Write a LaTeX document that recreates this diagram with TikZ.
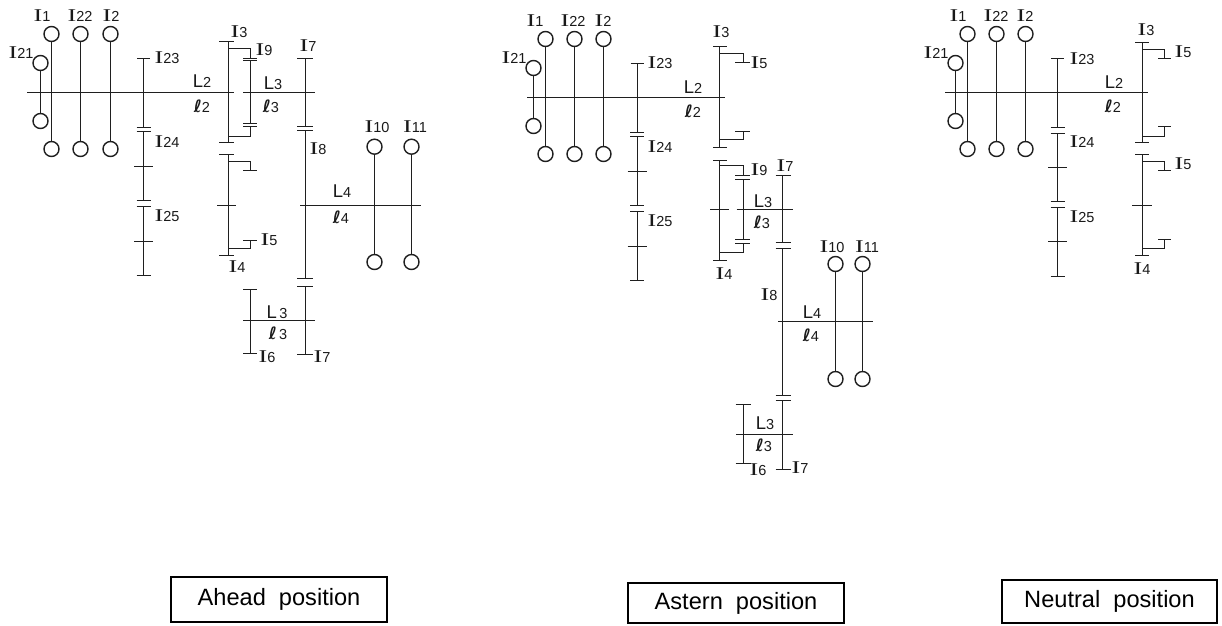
\documentclass[tikz,border=0pt]{standalone}
\usepackage{fontspec}
\setmainfont{Liberation Sans}
\newfontfamily\serf{Liberation Serif}[FakeStretch=1.45]
\newfontfamily\ellf{DejaVu Sans}
\newcommand{\Tk}[3]{\draw[gear] ({#1-#3},{floor(#2)+0.5}) -- ({#1+#3},{floor(#2)+0.5});}
\newcommand{\Vl}[3]{\draw[gear] ({floor(#1)+0.5},#2) -- ({floor(#1)+0.5},#3);}
\newcommand{\Il}[4]{\node[lab] (#1) at (#2,#3) {{\fontsize{18}{18}\serf I}{\fontsize{14.5}{14.5}\selectfont #4}};}
\newcommand{\Ll}[4]{\node[lab] (#1) at (#2,#3) {{\fontsize{18.5}{18.5}\selectfont L}{\fontsize{14.5}{14.5}\selectfont #4}};}
\newcommand{\El}[4]{\node[lab] (#1) at (#2,#3) {{\fontsize{17}{17}\ellf\bfseries\itshape ℓ}{\fontsize{14.5}{14.5}\selectfont #4}};}
\newcommand{\Pin}[5]{% name x ytop ybottom
  \node[wheel] (#1t) at ({floor(#2)+0.5},#3) {};
  \node[wheel] (#1b) at ({floor(#2)+0.5},#4) {};
  \draw[gear] (#1t) -- (#1b);}
\begin{document}
\begin{tikzpicture}[x=1pt,y=-1pt,
  gear/.style={line width=1.5pt,draw=black!88},
  wheel/.style={circle,draw=black!88,line width=1.4pt,minimum size=15pt,inner sep=0pt,fill=white},
  lab/.style={inner sep=0pt,text=black!90},
  tagbox/.style={draw=black,line width=1.8pt,inner sep=0pt,outer sep=0pt,anchor=north west,font=\fontsize{23.6}{23.6}\selectfont}]
\useasboundingbox (0,0) rectangle (1222,625);

% ---------- Ahead ----------
\Pin{aa}{40.5}{63}{121}{}
\Pin{ab}{51.5}{34}{149}{}
\Pin{ac}{80.5}{34}{149}{}
\Pin{ad}{110.5}{34}{149}{}
\draw[gear] (27,92.5) -- (234,92.5);
\Vl{143.5}{58.5}{127}\Vl{143.5}{131}{200.5}\Vl{143.5}{206.5}{275}
\Tk{143.5}{58.5}{6.5}\Tk{143.5}{127}{7}\Tk{143.5}{131}{7}\Tk{143.5}{166}{9.5}\Tk{143.5}{200.5}{7}\Tk{143.5}{206.5}{7}\Tk{143.5}{241}{9.5}\Tk{143.5}{275}{7}
% upper compound gear
\Vl{228}{41.5}{142}\Tk{226.5}{41.5}{7.5}\Tk{226.5}{142}{7.5}
\draw[gear] (228.5,48.5) -- (250.5,48.5) -- (250.5,58);
\Tk{250}{58}{7}\Tk{250}{60.5}{7}
\Vl{250}{60.5}{123}\Tk{250}{123}{7}\Tk{250}{126.7}{7}
\draw[gear] (250.5,126.7) -- (250.5,136.5) -- (228.5,136.5);
\draw[gear] (243,92.5) -- (315,92.5);
% lower compound gear
\Vl{228}{154.3}{255}\Tk{226.5}{154.3}{7.5}\Tk{226.5}{255}{7.5}
\draw[gear] (228.5,161.5) -- (250.5,161.5) -- (250.5,170);\Tk{250}{170}{7}
\draw[gear] (228.5,248.5) -- (250.5,248.5) -- (250.5,240);\Tk{250}{240}{7}
\Tk{226.5}{205}{9.5}
% layshaft
\Vl{305}{58}{126.7}\Vl{305}{130.3}{278.7}\Vl{305}{286.7}{354}
\Tk{305}{58}{8}\Tk{305}{126.7}{8}\Tk{305}{130.3}{8}\Tk{305}{278.7}{8}\Tk{305}{286.7}{8}\Tk{305}{354}{8}
\draw[gear] (300,205.5) -- (421,205.5);
\Pin{ae}{374.7}{146.7}{262}{}
\Pin{af}{411}{146.7}{262}{}
\Vl{250}{289}{353}\Tk{250}{289}{7}\Tk{250}{353}{7}
\draw[gear] (243,320.5) -- (315,320.5);
% labels
\Il{a1}{42}{16}{1}\Il{a2}{80}{16}{22}\Il{a3}{111}{16}{2}\Il{a4}{21}{53}{21}
\Il{a5}{167}{58}{23}\Il{a6}{167}{142}{24}\Il{a7}{167}{216}{25}
\Ll{a8}{202}{81}{2}\El{a9}{202}{106}{2}
\Il{a10}{239}{32}{3}\Il{a11}{264}{50}{9}
\Ll{a12}{273}{83}{3}\El{a13}{271}{106}{3}
\Il{a14}{308}{46}{7}\Il{a15}{318}{149}{8}
\Ll{a16}{342}{191}{4}\El{a17}{341}{217}{4}
\Il{a18}{377}{127}{10}\Il{a19}{415}{127}{11}
\Il{a20}{269}{240}{5}\Il{a21}{237}{267}{4}
\Ll{a22}{277}{312}{\,3}\El{a23}{278}{333}{\,3}
\Il{a24}{267}{357}{6}\Il{a25}{322}{357}{7}

% ---------- Astern ----------
\Pin{ba}{533.5}{68}{126}{}
\Pin{bb}{545}{39}{154}{}
\Pin{bc}{574}{39}{154}{}
\Pin{bd}{603}{39}{154}{}
\draw[gear] (527,97.5) -- (725,97.5);
\Vl{637}{63}{132}\Vl{637}{136}{205.5}\Vl{637}{211.5}{280}
\Tk{637}{63}{6.5}\Tk{637}{132}{7}\Tk{637}{136}{7}\Tk{637}{171}{9.5}\Tk{637}{205.5}{7}\Tk{637}{211.5}{7}\Tk{637}{246}{9.5}\Tk{637}{280}{7}
\Vl{719.7}{46.7}{147.3}\Tk{720}{46.7}{7}\Tk{720}{147.3}{7}
\draw[gear] (719.5,53.5) -- (743.5,53.5) -- (743.5,62);\Tk{742.5}{62}{7.5}
\draw[gear] (719.5,139.5) -- (743.5,139.5) -- (743.5,131.7);\Tk{742.5}{131.7}{7.5}
\Vl{719.7}{160}{260}\Tk{720}{160}{7}\Tk{720}{260}{7}
\draw[gear] (719.5,165.5) -- (743.5,165.5) -- (743.5,175);\Tk{742.5}{175}{7.5}\Tk{742.5}{179.3}{7.5}
\Vl{743}{179.3}{239.3}\Tk{742.5}{239.3}{7.5}\Tk{742.5}{243.3}{7.5}
\draw[gear] (743.5,243.3) -- (743.5,252.5) -- (719.5,252.5);
\Tk{719.5}{209}{9.5}
\draw[gear] (736.7,209.5) -- (793,209.5);
\Vl{782.7}{175}{242.7}\Vl{782.7}{248.7}{395.7}\Vl{782.7}{400.7}{469}
\Tk{783}{175}{7.5}\Tk{783}{242.7}{7.5}\Tk{783}{248.7}{7.5}\Tk{783}{395.7}{7.5}\Tk{783}{400.7}{7.5}\Tk{783}{469}{7.5}
\draw[gear] (778,321.5) -- (873,321.5);
\Pin{be}{835}{264}{379}{}
\Pin{bf}{862.7}{264}{379}{}
\Vl{743.3}{404.7}{463}\Tk{743}{404.7}{7.5}\Tk{743}{463}{7.5}
\draw[gear] (736,434.5) -- (793,434.5);
\Il{b1}{535}{21}{1}\Il{b2}{573}{21}{22}\Il{b3}{603}{21}{2}\Il{b4}{514}{58}{21}
\Il{b5}{660}{63}{23}\Il{b6}{660}{147}{24}\Il{b7}{660}{221}{25}
\Ll{b8}{693}{87}{2}\El{b9}{693}{111}{2}
\Il{b10}{721}{32}{3}\Il{b11}{759}{63}{5}\Il{b12}{759}{170}{9}\Il{b13}{785}{166}{7}
\Ll{b14}{763}{201}{3}\El{b15}{762}{222}{3}\Il{b16}{724}{274}{4}
\Il{b17}{832}{247}{10}\Il{b18}{867}{247}{11}\Il{b19}{769}{295}{8}
\Ll{b20}{812}{312}{4}\El{b21}{811}{335}{4}
\Ll{b22}{765}{423}{3}\El{b23}{764}{445}{3}
\Il{b24}{758}{470}{6}\Il{b25}{800}{468}{7}

% ---------- Neutral ----------
\Pin{ca}{955.5}{63}{121}{}
\Pin{cb}{967}{34}{149}{}
\Pin{cc}{996}{34}{149}{}
\Pin{cd}{1025}{34}{149}{}
\draw[gear] (945,92.5) -- (1148,92.5);
\Vl{1057.7}{58}{127}\Vl{1057.7}{133}{201.7}\Vl{1057.7}{207.7}{276}
\Tk{1057.7}{58}{6.5}\Tk{1057.7}{127}{7}\Tk{1057.7}{133}{7}\Tk{1057.7}{167}{9.5}\Tk{1057.7}{201.7}{7}\Tk{1057.7}{207.7}{7}\Tk{1057.7}{241.7}{9.5}\Tk{1057.7}{276}{7}
\Vl{1142.3}{42.7}{142.3}\Tk{1142}{42.7}{7}\Tk{1142}{142.3}{7}
\draw[gear] (1142.5,49.5) -- (1164.5,49.5) -- (1164.5,58);\Tk{1164.5}{58}{6.5}
\draw[gear] (1142.5,136.5) -- (1164.5,136.5) -- (1164.5,126.7);\Tk{1164.5}{126.7}{6.5}
\Vl{1142.3}{154.3}{255}\Tk{1142}{154.3}{7}\Tk{1142}{255}{7}
\draw[gear] (1142.5,161.5) -- (1164.5,161.5) -- (1164.5,170);\Tk{1164.5}{170}{6.5}
\draw[gear] (1142.5,248.5) -- (1164.5,248.5) -- (1164.5,239);\Tk{1164.5}{239}{6.5}
\Tk{1142}{205.3}{10}
\Il{c1}{958}{16}{1}\Il{c2}{996}{16}{22}\Il{c3}{1025}{16}{2}\Il{c4}{936}{53}{21}
\Il{c5}{1082}{59}{23}\Il{c6}{1082}{142}{24}\Il{c7}{1082}{217}{25}
\Ll{c8}{1114}{82}{2}\El{c9}{1113}{106}{2}
\Il{c10}{1146}{30}{3}\Il{c11}{1183}{52}{5}\Il{c12}{1183}{164}{5}\Il{c13}{1142}{269}{4}

% ---------- Captions ----------
\node[tagbox,minimum width=216pt,minimum height=45pt] (ahead) at (171,577) {Ahead\ \ position};
\node[tagbox,minimum width=216pt,minimum height=40pt] (astern) at (628,583) {Astern\ \ position};
\node[tagbox,minimum width=215pt,minimum height=43pt] (neutral) at (1002,580) {Neutral\ \ position};
\end{tikzpicture}
\end{document}
